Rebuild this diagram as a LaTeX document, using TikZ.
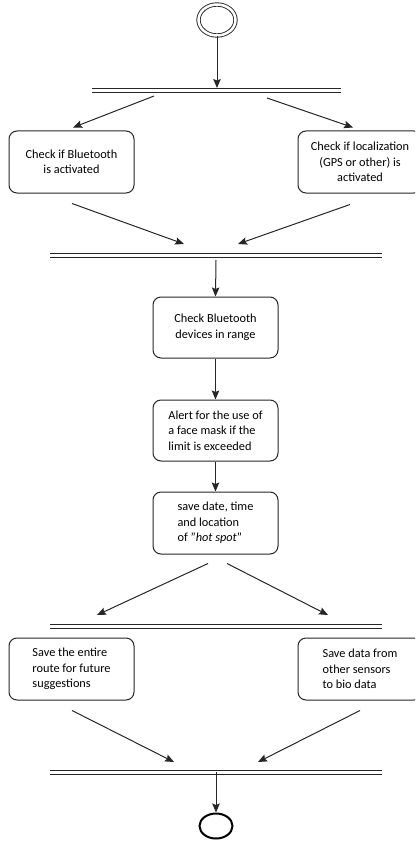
\documentclass[tikz,border=0pt]{standalone}
\usepackage{fontspec}
\setmainfont{Carlito}
\usetikzlibrary{arrows.meta,calc,shapes.geometric}
\begin{document}
\begin{tikzpicture}[x=1pt,y=-1pt,
  ln/.style={draw=black!85, line width=1pt},
  arr/.style={ln, -{Stealth[length=9pt,width=7.5pt,inset=1.5pt]}},
  box/.style={ln, rounded corners=8pt, minimum width=125pt, minimum height=62pt, inner sep=0pt, font=\fontsize{12.3}{15.5}\selectfont},
  bar/.style={minimum height=4pt, inner sep=0pt, outer sep=0pt},
  barline/.style={draw=black!85, line width=0.9pt}]
\clip (0,0) rectangle (415,845);
% start and end
\node[ellipse, draw=black!85, line width=0.9pt, double, double distance=2.5pt, minimum width=37pt, minimum height=31pt, inner sep=0pt] (start) at (217,20) {};
\node[ellipse, draw=black, line width=2pt, minimum width=33pt, minimum height=25pt, inner sep=0pt] (end) at (216,826) {};
% bars
\node[bar, minimum width=249pt] (bar1) at (216.5,90) {};
\node[bar, minimum width=332pt] (bar2) at (216,255) {};
\node[bar, minimum width=332pt] (bar3) at (216,626) {};
\node[bar, minimum width=332pt] (bar4) at (216,772) {};
\foreach \b in {bar1,bar2,bar3,bar4}{
  \draw[barline] (\b.north west) -- (\b.north east) (\b.south west) -- (\b.south east);
}
% boxes
\node[box, align=center] (b1) at (71.5,162) {Check if Bluetooth\\is activated};
\node[box, align=center, minimum width=124pt] (b2) at (360,162) {Check if localization\\(GPS or other) is\\activated};
\node[box, align=center, minimum height=61pt] (b3) at (215.5,327.5) {Check Bluetooth\\devices in range};
\node[box, align=left, minimum height=61pt] (b4) at (215.5,430.5) {Alert for the use of\\a face mask if the\\limit is exceeded};
\node[box, align=left] (b5) at (215.5,523) {save date, time\\and location\\of "\textit{hot spot}"};
\node[box, align=left] (b6) at (71.5,669) {Save the entire\\route for future\\suggestions};
\node[box, align=left, minimum width=124pt] (b7) at (360,669) {Save data from\\other sensors\\to bio data};
% connector ends
\coordinate (p1) at ($(bar1.south)+(-62.5,4)$);
\coordinate (q1) at ($(b1.north)+(1.5,-3)$);
\coordinate (p2) at ($(bar1.south)+(50.5,6)$);
\coordinate (q2) at ($(b2.north)+(-7,-3)$);
\coordinate (p3) at ($(b1.south)+(0.5,10)$);
\coordinate (q3) at ($(bar2.north)+(-32,-9)$);
\coordinate (p4) at ($(b2.south)+(-10,11)$);
\coordinate (q4) at ($(bar2.north)+(22,-9)$);
\coordinate (p5) at ($(b5.south)+(-7.5,9)$);
\coordinate (q5) at ($(bar3.north)+(-119,-9)$);
\coordinate (p6) at ($(b5.south)+(11.5,9)$);
\coordinate (q6) at ($(bar3.north)+(112,-9)$);
\coordinate (p7) at ($(b6.south)+(0.5,10)$);
\coordinate (q7) at ($(bar4.north)+(-42,-8)$);
\coordinate (p8) at ($(b7.south)+(0,10)$);
\coordinate (q8) at ($(bar4.north)+(42,-8)$);
% connectors
\draw[arr] (start) -- (start |- bar1.north);
\draw[arr] (p1) -- (q1);
\draw[arr] (p2) -- (q2);
\draw[arr] (p3) -- (q3);
\draw[arr] (p4) -- (q4);
\draw[arr] ($(bar2.south)+(0,3)$) -- (b3.north);
\draw[arr] (b3) -- (b4);
\draw[arr] (b4) -- (b5);
\draw[arr] (p5) -- (q5);
\draw[arr] (p6) -- (q6);
\draw[arr] (p7) -- (q7);
\draw[arr] (p8) -- (q8);
\draw[arr] (bar4.center) -- (end.north);
\end{tikzpicture}
\end{document}
